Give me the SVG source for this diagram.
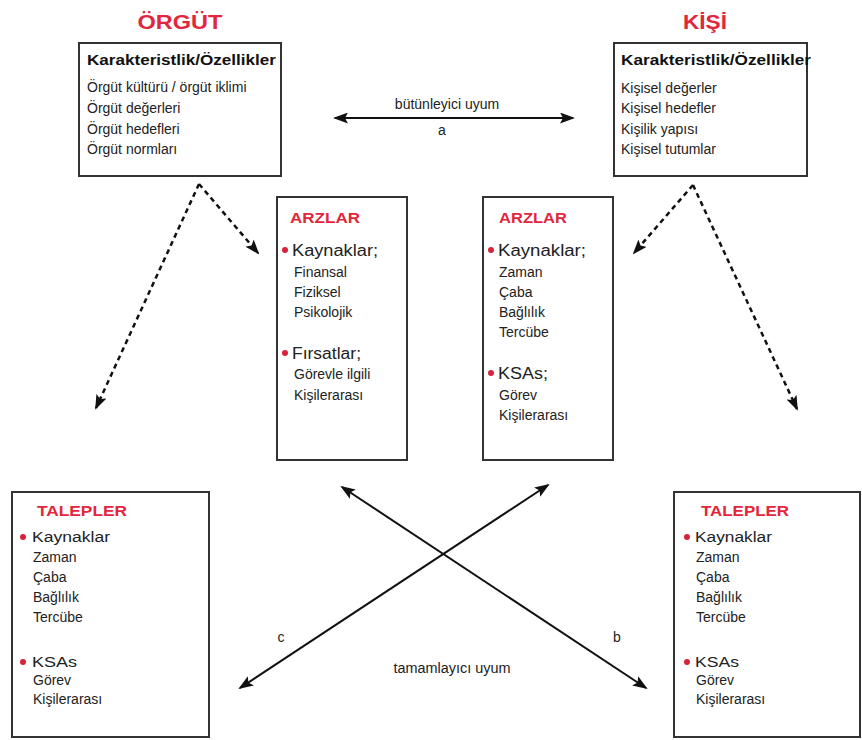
<svg xmlns="http://www.w3.org/2000/svg" width="862" height="740" viewBox="0 0 862 740">
  <defs>
    <marker id="head" viewBox="0 0 15 11" markerWidth="15" markerHeight="11" refX="13" refY="5.5" orient="auto-start-reverse" markerUnits="userSpaceOnUse">
      <path d="M0,0 L15,5.5 L0,11 L3,5.5 z" fill="#111"/>
    </marker>
  </defs>
  <style>
    text { font-family: "Liberation Sans", Arial, sans-serif; fill: #222; }
    .box { fill: #fff; stroke: #333; stroke-width: 2; }
    .title { font-size: 20px; font-weight: bold; fill: #e2263c; }
    .head { font-size: 14.5px; font-weight: bold; fill: #111; }
    .sub { font-size: 14px; fill: #e2263c; font-weight: bold; }
    .line { font-size: 14px; }
    .item { font-size: 16px; }
    .item2 { font-size: 15.5px; }
    .label { font-size: 14px; }
    .dot { fill: #d9223a; }
    .solid { fill: none; stroke: #111; stroke-width: 2; marker-start: url(#head); marker-end: url(#head); }
    .dash { fill: none; stroke: #111; stroke-width: 2.5; stroke-dasharray: 5 4; marker-end: url(#head); }
  </style>
  <rect width="862" height="740" fill="#fff"/>

  <!-- Organisation characteristics -->
  <g id="orgut">
    <text class="title" x="180" y="29" text-anchor="middle" textLength="85" lengthAdjust="spacingAndGlyphs">ÖRGÜT</text>
    <rect class="box" x="79" y="43" width="202" height="133"/>
    <text class="head" x="87" y="65" textLength="189" lengthAdjust="spacingAndGlyphs">Karakteristlik/Özellikler</text>
    <text class="line" x="87" y="92">Örgüt kültürü / örgüt iklimi</text>
    <text class="line" x="87" y="113">Örgüt değerleri</text>
    <text class="line" x="87" y="134">Örgüt hedefleri</text>
    <text class="line" x="87" y="154">Örgüt normları</text>
  </g>

  <!-- Person characteristics -->
  <g id="kisi">
    <text class="title" x="705" y="29" text-anchor="middle" textLength="44" lengthAdjust="spacingAndGlyphs">KİŞİ</text>
    <rect class="box" x="614" y="43" width="193" height="133"/>
    <text class="head" x="621" y="65" textLength="190" lengthAdjust="spacingAndGlyphs">Karakteristlik/Özellikler</text>
    <text class="line" x="621" y="93">Kişisel değerler</text>
    <text class="line" x="621" y="113">Kişisel hedefler</text>
    <text class="line" x="621" y="134">Kişilik yapısı</text>
    <text class="line" x="621" y="154">Kişisel tutumlar</text>
  </g>

  <!-- Supplies of the organisation -->
  <g id="arzlar-orgut">
    <rect class="box" x="277" y="197" width="130" height="263"/>
    <text class="sub" x="290" y="223" textLength="70" lengthAdjust="spacingAndGlyphs">ARZLAR</text>
    <circle class="dot" cx="285" cy="250" r="3"/>
    <text class="item" x="292" y="256" textLength="86" lengthAdjust="spacingAndGlyphs">Kaynaklar;</text>
    <text class="line" x="294" y="277">Finansal</text>
    <text class="line" x="294" y="297">Fiziksel</text>
    <text class="line" x="294" y="317">Psikolojik</text>
    <circle class="dot" cx="285" cy="353" r="3"/>
    <text class="item" x="292" y="359" textLength="69" lengthAdjust="spacingAndGlyphs">Fırsatlar;</text>
    <text class="line" x="294" y="379">Görevle ilgili</text>
    <text class="line" x="294" y="400">Kişilerarası</text>
  </g>

  <!-- Supplies of the person -->
  <g id="arzlar-kisi">
    <rect class="box" x="483" y="197" width="130" height="263"/>
    <text class="sub" x="499" y="223" textLength="68" lengthAdjust="spacingAndGlyphs">ARZLAR</text>
    <circle class="dot" cx="491" cy="250" r="3"/>
    <text class="item" x="498" y="256" textLength="88" lengthAdjust="spacingAndGlyphs">Kaynaklar;</text>
    <text class="line" x="499" y="277">Zaman</text>
    <text class="line" x="499" y="297">Çaba</text>
    <text class="line" x="499" y="317">Bağlılık</text>
    <text class="line" x="499" y="337">Tercübe</text>
    <circle class="dot" cx="491" cy="373" r="3"/>
    <text class="item" x="498" y="379" textLength="50" lengthAdjust="spacingAndGlyphs">KSAs;</text>
    <text class="line" x="499" y="400">Görev</text>
    <text class="line" x="499" y="420">Kişilerarası</text>
  </g>

  <!-- Demands of the organisation -->
  <g id="talepler-orgut">
    <rect class="box" x="12" y="492" width="197" height="245"/>
    <text class="sub" x="37" y="516" textLength="90" lengthAdjust="spacingAndGlyphs">TALEPLER</text>
    <circle class="dot" cx="23" cy="537" r="3"/>
    <text class="item2" x="32" y="542" textLength="78" lengthAdjust="spacingAndGlyphs">Kaynaklar</text>
    <text class="line" x="33" y="562">Zaman</text>
    <text class="line" x="33" y="582">Çaba</text>
    <text class="line" x="33" y="602">Bağlılık</text>
    <text class="line" x="33" y="622">Tercübe</text>
    <circle class="dot" cx="23" cy="662" r="3"/>
    <text class="item2" x="32" y="667" textLength="45" lengthAdjust="spacingAndGlyphs">KSAs</text>
    <text class="line" x="33" y="685">Görev</text>
    <text class="line" x="33" y="704">Kişilerarası</text>
  </g>

  <!-- Demands of the person -->
  <g id="talepler-kisi">
    <rect class="box" x="674" y="492" width="186" height="245"/>
    <text class="sub" x="701" y="516" textLength="88" lengthAdjust="spacingAndGlyphs">TALEPLER</text>
    <circle class="dot" cx="687" cy="537" r="3"/>
    <text class="item2" x="695" y="542" textLength="77" lengthAdjust="spacingAndGlyphs">Kaynaklar</text>
    <text class="line" x="696" y="562">Zaman</text>
    <text class="line" x="696" y="582">Çaba</text>
    <text class="line" x="696" y="602">Bağlılık</text>
    <text class="line" x="696" y="622">Tercübe</text>
    <circle class="dot" cx="687" cy="662" r="3"/>
    <text class="item2" x="695" y="667" textLength="44" lengthAdjust="spacingAndGlyphs">KSAs</text>
    <text class="line" x="696" y="685">Görev</text>
    <text class="line" x="696" y="704">Kişilerarası</text>
  </g>

  <!-- Connectors -->
  <g id="connectors">
    <line class="solid" x1="335" y1="118" x2="573" y2="118"/>
    <line class="solid" x1="342" y1="487" x2="646" y2="688"/>
    <line class="solid" x1="548" y1="485" x2="240" y2="688"/>
    <line class="dash" x1="199" y1="184" x2="258" y2="253"/>
    <line class="dash" x1="199" y1="184" x2="96" y2="408"/>
    <line class="dash" x1="693" y1="185" x2="634" y2="253"/>
    <line class="dash" x1="693" y1="185" x2="797" y2="409"/>
  </g>

  <!-- Connector labels -->
  <g id="labels">
    <text class="label" x="447" y="109" text-anchor="middle">bütünleyici uyum</text>
    <text class="label" x="442" y="135" text-anchor="middle">a</text>
    <text class="label" x="281" y="642" text-anchor="middle">c</text>
    <text class="label" x="617" y="642" text-anchor="middle">b</text>
    <text class="label" x="452" y="673" text-anchor="middle" textLength="117" lengthAdjust="spacingAndGlyphs">tamamlayıcı uyum</text>
  </g>
</svg>
